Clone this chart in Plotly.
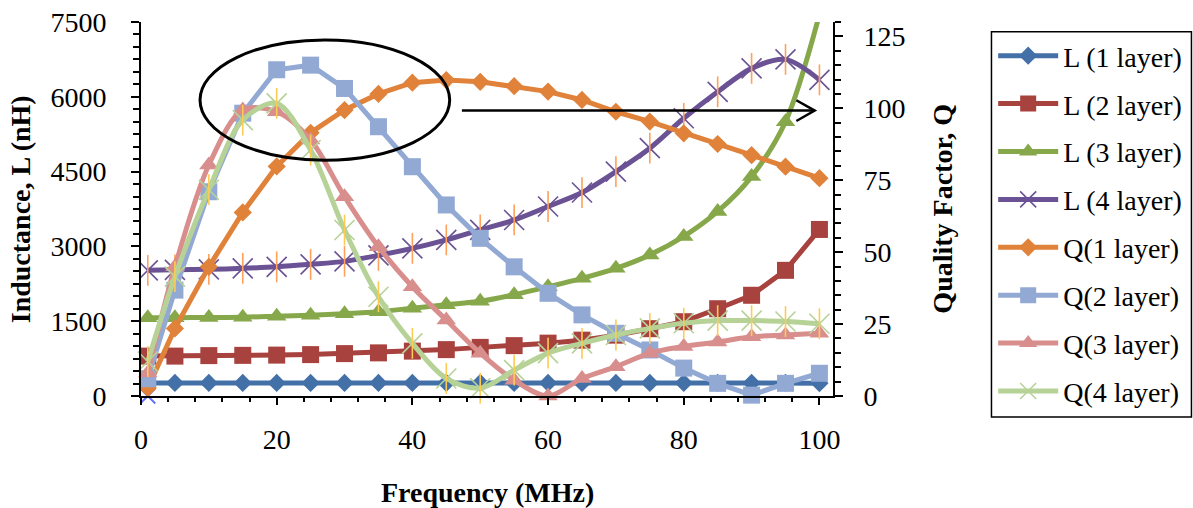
import plotly.graph_objects as go

# ---------------- data ----------------
freq = [1, 5, 10, 15, 20, 25, 30, 35, 40, 45, 50, 55, 60, 65, 70, 75, 80, 85, 90, 95, 100]

L1 = [260, 262, 262, 262, 262, 262, 262, 262, 262, 262, 262, 262, 262, 262, 262, 262, 262, 262, 262, 262, 258]
L2 = [800, 800, 810, 815, 820, 830, 850, 865, 900, 930, 975, 1010, 1060, 1120, 1220, 1350, 1490, 1750, 2020, 2520, 3340]
L3 = [1570, 1570, 1575, 1580, 1600, 1620, 1650, 1690, 1760, 1830, 1900, 2030, 2190, 2360, 2560, 2830, 3200, 3700, 4400, 5500, 7650]
L4 = [2520, 2530, 2540, 2560, 2590, 2640, 2700, 2820, 2960, 3130, 3330, 3530, 3800, 4080, 4500, 4970, 5570, 6100, 6570, 6750, 6340]

Q1 = [2.8, 23.5, 44.9, 63.8, 79.8, 91.5, 99.4, 105, 108.9, 109.8, 109.2, 107.7, 105.8, 102.9, 98.8, 95.4, 91.3, 87.6, 83.7, 79.7, 75.7]
Q2 = [6, 36.8, 71, 98.3, 113.4, 115, 106.9, 93.6, 79.7, 66.4, 54.8, 44.9, 35.7, 28.2, 21.8, 16, 9.7, 4.4, 0.3, 4.4, 7.9]
Q3 = [8, 44.9, 80.3, 99.4, 98.8, 89, 69.3, 51.9, 38, 26.4, 14.9, 5.5, 0, 6.1, 10.2, 14.9, 17.2, 18.8, 20.6, 21.2, 21.8]
Q4 = [12, 41.5, 71.7, 95.9, 101.7, 85.5, 57.7, 34.5, 18.3, 6.1, 2.7, 9, 14.9, 18.3, 21.2, 23.5, 25.3, 26.2, 26.2, 25.9, 25.1]

stray_x = [1]
stray_y = [0]

names = ["L (1 layer)", "L (2 layer)", "L (3 layer)", "L (4 layer)",
         "Q(1 layer)", "Q(2 layer)", "Q(3 layer)", "Q(4 layer)"]

# annotation geometry (data units)
ellipse = dict(x0=8.7, x1=45.5, y0=4730, y1=7140)
arrow_x = [47.3, 99.3]
arrow_y = 99.2
head_back = 96.6
head_half = 3.6

# ---------------- styles ----------------
FONT = "Liberation Serif, Times New Roman, serif"
FS = 28
colors = ["#4470A8", "#A8423F", "#86A84A", "#6B5294",
          "#E0823A", "#92A9D4", "#D88E8C", "#B6D296"]
symbols = ["diamond", "square", "triangle-up", "x-thin-open",
           "diamond", "square", "triangle-up", "x-thin-open"]
msizes = [14, 17, 17, 20, 14, 17, 17, 20]
shapes_line = ["linear", "linear", "spline", "spline", "linear", "linear", "spline", "spline"]
series = [L1, L2, L3, L4, Q1, Q2, Q3, Q4]
axes = ["y", "y", "y", "y", "y2", "y2", "y2", "y2"]

fig = go.Figure()
for i in range(8):
    open_sym = symbols[i].endswith("open")
    fig.add_trace(go.Scatter(
        x=freq, y=series[i], name=names[i], yaxis=axes[i],
        mode="lines+markers",
        line=dict(color=colors[i], width=5, shape=shapes_line[i], smoothing=0.9),
        marker=dict(symbol=symbols[i], size=msizes[i], color=colors[i],
                    line=dict(color=colors[i], width=1.6 if open_sym else 0)),
        cliponaxis=(i < 4),
        legendgroup=f"g{i}",
    ))
    if open_sym:
        fig.add_trace(go.Scatter(
            x=freq, y=series[i], yaxis=axes[i], mode="markers", showlegend=False,
            marker=dict(symbol="line-ns-open", size=msizes[i] + 2,
                        line=dict(color=colors[i], width=1.6)),
            cliponaxis=(i < 4), hoverinfo="skip", legendgroup=f"g{i}",
        ))

fig.add_trace(go.Scatter(
    x=stray_x, y=stray_y, mode="markers", showlegend=False, cliponaxis=False,
    marker=dict(symbol="x-thin-open", size=15, line=dict(color="#3FA6C0", width=1.8)),
))

# ---------------- shapes ----------------
shapes = [
    dict(type="circle", xref="x", yref="y", line=dict(color="black", width=3), **ellipse),
    dict(type="line", xref="x", yref="y2", x0=arrow_x[0], x1=arrow_x[1], y0=arrow_y, y1=arrow_y,
         line=dict(color="black", width=2.5)),
    dict(type="path", xref="x", yref="y2",
         path=f"M {head_back},{arrow_y + head_half} L {arrow_x[1]},{arrow_y} L {head_back},{arrow_y - head_half}",
         line=dict(color="black", width=2.5)),
    # legend box
    dict(type="rect", xref="paper", yref="paper", x0=1.229, x1=1.518, y0=-0.056, y1=0.974,
         line=dict(color="black", width=1.5), fillcolor="rgba(0,0,0,0)"),
]

tickfont = dict(family=FONT, size=FS, color="black")
common = dict(showgrid=False, zeroline=False, showline=True, linecolor="black", linewidth=2,
              ticks="outside", tickcolor="black", tickwidth=2, tickfont=tickfont)

fig.update_layout(
    width=1193, height=508,
    margin=dict(l=141, r=360, t=22, b=112, autoexpand=False),
    paper_bgcolor="white", plot_bgcolor="white",
    font=dict(family=FONT, size=FS, color="black"),
    showlegend=True,
    legend=dict(xref="container", yref="container", x=0.8325, y=1 - 31 / 508,
                xanchor="left", yanchor="top", bgcolor="rgba(0,0,0,0)", borderwidth=0,
                font=dict(family=FONT, size=FS, color="black"),
                tracegroupgap=8.5, itemwidth=60, traceorder="grouped", maxheight=500),
    xaxis=dict(range=[0, 102], tick0=0, dtick=20, ticklen=7, ticklabelstandoff=10,
               minor=dict(dtick=4, ticks="outside", ticklen=4, tickwidth=1.5, tickcolor="black", showgrid=False),
               **common),
    yaxis=dict(range=[0, 7500], tick0=0, dtick=1500, ticklen=8, ticklabelstandoff=19,
               minor=dict(dtick=250, ticks="outside", ticklen=6, tickwidth=1.5, tickcolor="black", showgrid=False),
               **common),
    yaxis2=dict(range=[0, 130], tick0=0, dtick=25, ticklen=8, overlaying="y", side="right",
                ticklabelstandoff=15,
                minor=dict(dtick=5, ticks="outside", ticklen=6, tickwidth=1.5, tickcolor="black", showgrid=False),
                **common),
    shapes=shapes,
    annotations=[
        dict(text="<b>Frequency (MHz)</b>", xref="paper", yref="paper", x=0.5, y=-0.259,
             xanchor="center", yanchor="middle", showarrow=False, font=dict(family=FONT, size=FS)),
        dict(text="<b>Inductance, L (nH)</b>", xref="paper", yref="paper", x=-0.1745, y=0.5,
             xanchor="center", yanchor="middle", showarrow=False, textangle=-90,
             font=dict(family=FONT, size=FS)),
        dict(text="<b>Quality Factor, Q</b>", xref="paper", yref="paper", x=1.157, y=0.5,
             xanchor="center", yanchor="middle", showarrow=False, textangle=-90,
             font=dict(family=FONT, size=FS)),
    ],
)

fig.write_html("out.html")
